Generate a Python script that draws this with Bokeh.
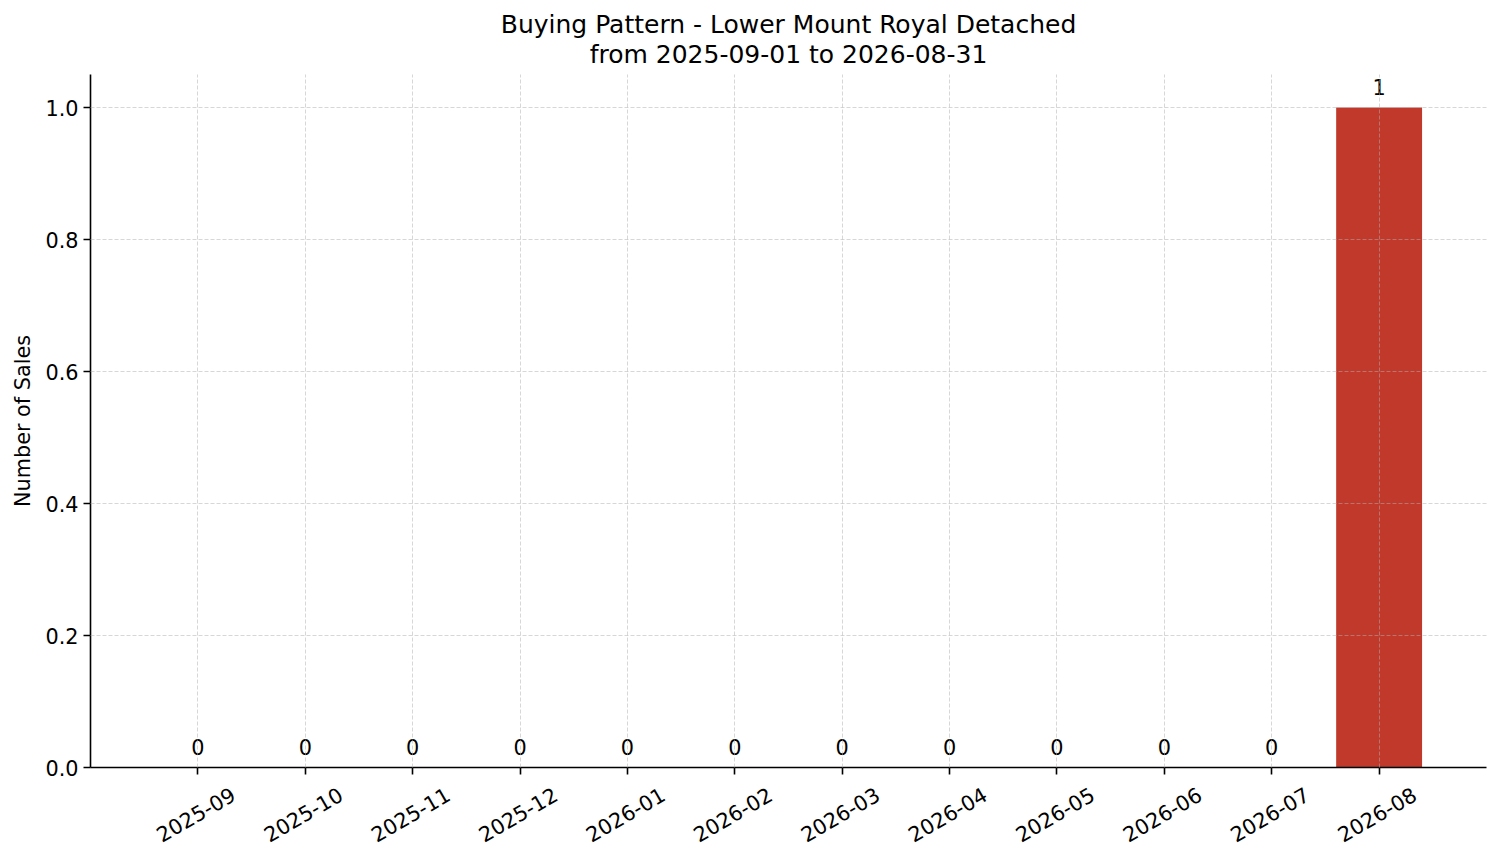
import math
from bokeh.plotting import figure
from bokeh.models import (ColumnDataSource, LabelSet, Range1d, FixedTicker,
                          PrintfTickFormatter, LinearAxis, Title)
from bokeh.core.properties import value
from bokeh.embed import file_html
from bokeh.resources import INLINE

# ---- data ----
months = ["2025-09", "2025-10", "2025-11", "2025-12", "2026-01", "2026-02",
          "2026-03", "2026-04", "2026-05", "2026-06", "2026-07", "2026-08"]
sales = [0, 0, 0, 0, 0, 0, 0, 0, 0, 0, 0, 1]
y_ticks = [0.0, 0.2, 0.4, 0.6, 0.8, 1.0]
title_line1 = "Buying Pattern - Lower Mount Royal Detached"
title_line2 = "from 2025-09-01 to 2026-08-31"
y_label = "Number of Sales"

FONT = "DejaVu Sans"
BAR_COLOR = "#c0392b"

idx = list(range(len(months)))
src = ColumnDataSource(dict(x=idx, y=sales, label=[str(v) for v in sales]))

X0, X1 = -1.0, 12.0
SHIFT = 0.33  # label anchor shift so right-aligned rotated labels centre on ticks

p = figure(frame_width=1396, frame_height=693,
           min_border_left=90, min_border_right=14,
           min_border_top=74, min_border_bottom=95,
           x_range=Range1d(X0, X1), y_range=Range1d(0, 1.05),
           output_backend="svg", toolbar_location=None, title=None)
p.background_fill_color = "white"
p.border_fill_color = "white"
p.outline_line_color = None
p.extra_x_ranges = {"lab": Range1d(X0 - SHIFT, X1 - SHIFT)}

p.vbar(x="x", top="y", bottom=0, width=0.8, source=src,
       fill_color=BAR_COLOR, line_color=None)

# axes
for ax in (p.xaxis, p.yaxis):
    ax.axis_line_color = "black"
    ax.axis_line_width = 1.6
    ax.major_tick_line_color = "black"
    ax.major_tick_line_width = 1.6
    ax.major_tick_out = 7
    ax.major_tick_in = 0
    ax.minor_tick_line_color = None
    ax.major_label_text_font = FONT
    ax.major_label_text_font_size = "20.8px"
    ax.major_label_text_color = "black"

p.xaxis.ticker = FixedTicker(ticks=idx)
p.xaxis.major_label_overrides = {i: "" for i in idx}
p.xaxis.major_label_text_font_size = "0px"
p.xaxis.major_label_standoff = 0

lab_axis = LinearAxis(x_range_name="lab", ticker=FixedTicker(ticks=idx),
                      major_label_overrides={i: m for i, m in zip(idx, months)},
                      major_label_orientation=math.pi / 6,
                      major_label_text_font=FONT,
                      major_label_text_font_size="20.8px",
                      major_label_text_color="black",
                      major_label_standoff=18,
                      axis_line_color=None, major_tick_line_color=None,
                      minor_tick_line_color=None,
                      major_tick_out=0, major_tick_in=0)
p.add_layout(lab_axis, "below")

p.yaxis.ticker = FixedTicker(ticks=y_ticks)
p.yaxis.formatter = PrintfTickFormatter(format="%.1f")
p.yaxis.major_label_standoff = 5
p.yaxis.axis_label = y_label
p.yaxis.axis_label_text_font = FONT
p.yaxis.axis_label_text_font_size = "20.8px"
p.yaxis.axis_label_text_font_style = "normal"
p.yaxis.axis_label_text_color = "black"
p.yaxis.axis_label_standoff = 7

# grid
for g in (p.xgrid, p.ygrid):
    g.grid_line_color = "#b0b0b0"
    g.grid_line_alpha = 0.5
    g.grid_line_dash = "4 2"
    g.grid_line_width = 1
    g.level = "overlay"
p.xgrid.ticker = FixedTicker(ticks=idx)
p.ygrid.ticker = FixedTicker(ticks=y_ticks)

# bar value labels
p.add_layout(LabelSet(x="x", y="y", text="label", source=src,
                      text_align="center", text_baseline="alphabetic",
                      y_offset=13, text_font=value(FONT), text_font_size="20.8px",
                      text_color="black"))

# title (two lines; first added sits nearest the plot)
p.add_layout(Title(text=title_line2, align="center", text_font=FONT,
                   text_font_size="25px", text_font_style="normal",
                   text_color="black", standoff=12), "above")
p.add_layout(Title(text=title_line1, align="center", text_font=FONT,
                   text_font_size="25px", text_font_style="normal",
                   text_color="black", standoff=-14), "above")

open("out.html", "w").write(file_html(p, INLINE))
